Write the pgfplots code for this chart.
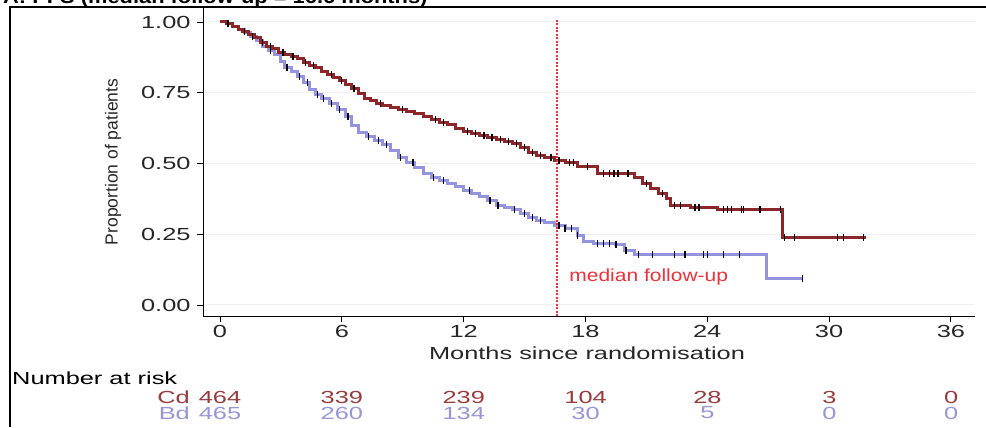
\documentclass[border=0pt]{standalone}
\usepackage{pgfplots}
\pgfplotsset{compat=1.18}
\usepackage{fontspec}
\setmainfont[FakeStretch=1.45]{Liberation Sans}
\newfontfamily\plainfont{Liberation Sans}
\newfontfamily\medfont[FakeStretch=1.2]{Liberation Sans}
\newfontfamily\titlefont[FakeStretch=1.15]{Liberation Sans}
\definecolor{cdred}{RGB}{140,38,40}
\definecolor{bdblue}{RGB}{148,148,222}
\definecolor{cdtext}{RGB}{150,60,62}
\definecolor{bdtext}{RGB}{150,150,215}
\definecolor{medred}{RGB}{235,50,60}
\newcommand{\fs}{\fontsize{17.5bp}{20bp}\selectfont}
\begin{document}
\begin{tikzpicture}[x=1bp,y=1bp]
\useasboundingbox (0,0) rectangle (986,427);
\draw[black, line width=1.3bp] (10,0) -- (10,420) -- (986,420);
\node[anchor=base west, inner sep=0pt, font=\titlefont\bfseries\fontsize{19bp}{22bp}\selectfont] at (3,423) {A: PFS (median follow-up = 16.6 months)};
\begin{axis}[
  at={(203bp,111bp)}, anchor=south west, scale only axis,
  width=772bp, height=309bp,
  xmin=-0.837, xmax=37.19, ymin=-0.0389, ymax=1.053,
  axis x line*=bottom, axis y line*=left,
  axis line style={line width=0.9bp, -},
  xtick={0,6,12,18,24,30,36},
  ytick={0,0.25,0.5,0.75,1},
  ymajorgrids, grid style={gray!12, line width=1bp},
  tick align=outside, major tick length=6bp,
  tick style={black, line width=0.8bp},
  /pgf/number format/assume math mode=true,
  yticklabel style={xshift=-3bp, /pgf/number format/.cd, fixed, fixed zerofill, precision=2},
  xticklabel style={/pgf/number format/.cd, fixed},
  tick label style={font=\fs, text=black!85},
  clip=false,
]
\addplot[const plot, color=bdblue, line width=3bp] table {
0 1.000
0.3 0.995
0.6 0.985
0.9 0.975
1.2 0.962
1.5 0.950
1.8 0.935
2.1 0.915
2.4 0.900
2.7 0.885
3.0 0.860
3.2 0.840
3.5 0.825
3.8 0.808
4.1 0.785
4.4 0.760
4.7 0.745
5.0 0.730
5.4 0.713
5.8 0.690
6.2 0.665
6.5 0.635
6.8 0.608
7.2 0.595
7.6 0.582
8.0 0.568
8.4 0.545
8.8 0.522
9.2 0.505
9.6 0.487
10.0 0.465
10.4 0.450
10.8 0.440
11.2 0.430
11.6 0.418
12.0 0.406
12.4 0.395
12.8 0.382
13.2 0.368
13.6 0.353
14.0 0.345
14.4 0.336
14.8 0.322
15.2 0.308
15.6 0.298
16.0 0.290
16.5 0.280
17.0 0.270
17.6 0.247
17.9 0.223
18.4 0.219
19.5 0.212
19.9 0.191
20.4 0.180
26.9 0.092
28.7 0.092
};
\addplot[const plot, color=cdred, line width=3bp] table {
0 1.000
0.3 0.995
0.6 0.985
0.9 0.975
1.1 0.965
1.4 0.955
1.7 0.945
2.0 0.928
2.3 0.915
2.6 0.905
2.9 0.893
3.2 0.885
3.5 0.878
3.8 0.870
4.1 0.858
4.4 0.848
4.7 0.838
5.0 0.826
5.3 0.814
5.6 0.803
5.9 0.792
6.2 0.780
6.5 0.765
6.8 0.748
7.1 0.730
7.4 0.722
7.7 0.712
8.0 0.705
8.4 0.698
8.8 0.690
9.2 0.683
9.6 0.676
10.0 0.665
10.4 0.655
10.8 0.645
11.2 0.637
11.6 0.625
12.0 0.612
12.4 0.605
12.8 0.600
13.2 0.592
13.6 0.584
14.0 0.578
14.4 0.572
14.8 0.556
15.2 0.540
15.6 0.530
16.0 0.522
16.5 0.510
17.0 0.505
17.6 0.490
18.6 0.466
20.4 0.450
20.8 0.430
21.2 0.410
21.6 0.395
22.0 0.378
22.2 0.353
23.2 0.345
24.5 0.336
27.7 0.237
31.8 0.237
};
% censoring ticks
\addplot[only marks, mark=|, mark size=3.5bp, mark options={black, line width=1.3bp}] table {
1.6 0.950
2.5 0.900
3.3 0.840
3.9 0.808
4.3 0.785
4.8 0.745
5.1 0.730
5.5 0.713
5.9 0.690
6.3 0.665
7.3 0.595
7.8 0.582
8.2 0.568
8.9 0.522
9.5 0.505
10.5 0.450
11.0 0.440
12.3 0.406
13.3 0.368
13.7 0.353
14.5 0.336
15.0 0.322
15.4 0.308
15.8 0.298
16.7 0.280
17.0 0.270
17.3 0.270
17.6 0.247
18.6 0.219
18.9 0.219
19.2 0.219
19.5 0.212
20.0 0.191
20.6 0.180
21.3 0.180
22.4 0.180
22.9 0.180
23.8 0.180
24.0 0.180
24.8 0.180
25.6 0.180
28.7 0.092
};
\addplot[only marks, mark=|, mark size=3.5bp, mark options={black, line width=1.3bp}] table {
0.4 0.995
1.2 0.965
2.1 0.928
2.5 0.915
3.1 0.893
3.6 0.878
4.2 0.858
4.6 0.848
5.5 0.814
6.0 0.792
6.6 0.765
7.9 0.712
9.0 0.690
10.6 0.655
11.0 0.645
12.2 0.612
12.6 0.605
13.0 0.600
13.4 0.592
13.8 0.584
14.2 0.578
14.6 0.572
15.0 0.556
15.4 0.540
15.8 0.530
16.3 0.522
16.7 0.510
17.2 0.505
17.4 0.505
18.1 0.490
18.9 0.466
19.2 0.466
19.4 0.466
19.6 0.466
20.1 0.466
21.0 0.430
21.8 0.395
22.4 0.353
22.7 0.353
23.4 0.345
23.6 0.345
24.8 0.336
25.0 0.336
25.2 0.336
25.7 0.336
25.8 0.336
26.6 0.336
27.6 0.336
27.8 0.237
28.3 0.237
30.4 0.237
30.7 0.237
31.7 0.237
};
% median follow-up line
\addplot[color=medred, dash pattern=on 2bp off 1.5bp, line width=1.2bp] coordinates {(16.6,-0.0389) (16.6,1.01)};
\node[anchor=west, text=medred, font=\medfont\fontsize{17.5bp}{20bp}\selectfont, inner sep=0pt] at (axis cs:17.2,0.10) {median follow-up};
\end{axis}
% axis labels
\node[font=\fs, text=black!85, inner sep=0pt] at (587,74) {Months since randomisation};
\node[font=\plainfont\fontsize{17.5bp}{20bp}\selectfont, text=black!85, rotate=90, inner sep=0pt] at (113,265) {Proportion of patients};
% number at risk
\node[anchor=west, font=\fs, inner sep=0pt] at (12,49) {Number at risk};
\node[anchor=east, font=\fs, text=cdtext, inner sep=0pt] at (190,30) {Cd};
\node[anchor=east, font=\fs, text=bdtext, inner sep=0pt] at (190,14) {Bd};
\foreach \xx/\c/\b in {0/464/465, 6/339/260, 12/239/134, 18/104/30, 24/28/5, 30/3/0, 36/0/0}{
  \node[font=\fs, text=cdtext, inner sep=0pt] at ({220+20.31*\xx},30) {\c};
  \node[font=\fs, text=bdtext, inner sep=0pt] at ({220+20.31*\xx},14) {\b};
}
\end{tikzpicture}
\end{document}
